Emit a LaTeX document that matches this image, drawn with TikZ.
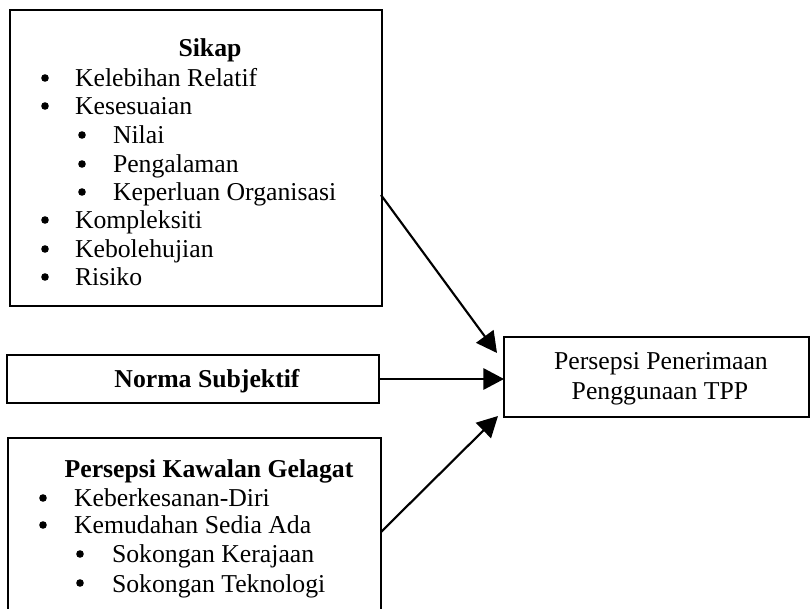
\documentclass[tikz,border=0pt]{standalone}
\usepackage{fontspec}
\setmainfont{Liberation Serif}
\usetikzlibrary{arrows.meta,calc}
\begin{document}
\begin{tikzpicture}[x=0.75pt,y=-0.75pt,
  every node/.style={inner sep=0pt,outer sep=0pt,font=\fontsize{19.3}{22}\selectfont},
  box/.style={draw,line width=2pt,minimum width=#1},
  ttl/.style={anchor=base,font=\fontsize{19.3}{22}\selectfont\bfseries},
  itm/.style={anchor=base west},
  arr/.style={line width=1.6pt,-{Triangle[length=15.5pt,width=16pt]}}]
\useasboundingbox (0,0) rectangle (811,609);
% boxes
\node[box=279pt,minimum height=222pt] (sikap) at (196,158) {};
\node[box=279pt,minimum height=36pt] (norma) at (193,379) {};
\node[box=228.75pt,minimum height=60pt] (pers) at (656.5,377) {};
\node[box=279.75pt,minimum height=144pt] (pkg) at (194.5,534) {};
% Sikap
\node[ttl] (t1) at (210,57) {Sikap};
\foreach \y/\txt/\n in {87/Kelebihan Relatif/s1,115/Kesesuaian/s2,229/Kompleksiti/s6,258/Kebolehujian/s7,286/Risiko/s8}{
  \fill (45,\y-9) circle (3.8);
  \node[itm] (\n) at (75,\y) {\txt};
}
\foreach \y/\txt/\n in {144/Nilai/s3,173/Pengalaman/s4,201/Keperluan Organisasi/s5}{
  \fill (82,\y-9) circle (3.8);
  \node[itm] (\n) at (113,\y) {\txt};
}
% Norma
\node[ttl] (t2) at (207,388) {Norma Subjektif};
% Persepsi
\node[anchor=base] (p1) at (661,370) {Persepsi Penerimaan};
\node[anchor=base] (p2) at (660,400) {Penggunaan TPP};
% PKG
\node[ttl] (t3) at (209,478) {Persepsi Kawalan Gelagat};
\foreach \y/\txt/\n in {507/Keberkesanan-Diri/k1,534/Kemudahan Sedia Ada/k2}{
  \fill (43,\y-9) circle (3.8);
  \node[itm] (\n) at (74,\y) {\txt};
}
\foreach \y/\txt/\n in {563/Sokongan Kerajaan/k3,592/Sokongan Teknologi/k4}{
  \fill (80,\y-9) circle (3.8);
  \node[itm] (\n) at (112,\y) {\txt};
}
% arrows
\coordinate (a1) at ($(sikap.north east)+(-1,185)$);
\coordinate (e1) at ($(pers.north west)+(-7,16)$);
\coordinate (a3) at ($(pkg.north east)+(0,94)$);
\coordinate (e3) at ($(pers.south west)+(-6,-1)$);
\draw[arr] (a1) -- (e1);
\draw[arr] (norma.east) -- (norma.east -| pers.west);
\draw[arr] (a3) -- (e3);
\end{tikzpicture}
\end{document}
